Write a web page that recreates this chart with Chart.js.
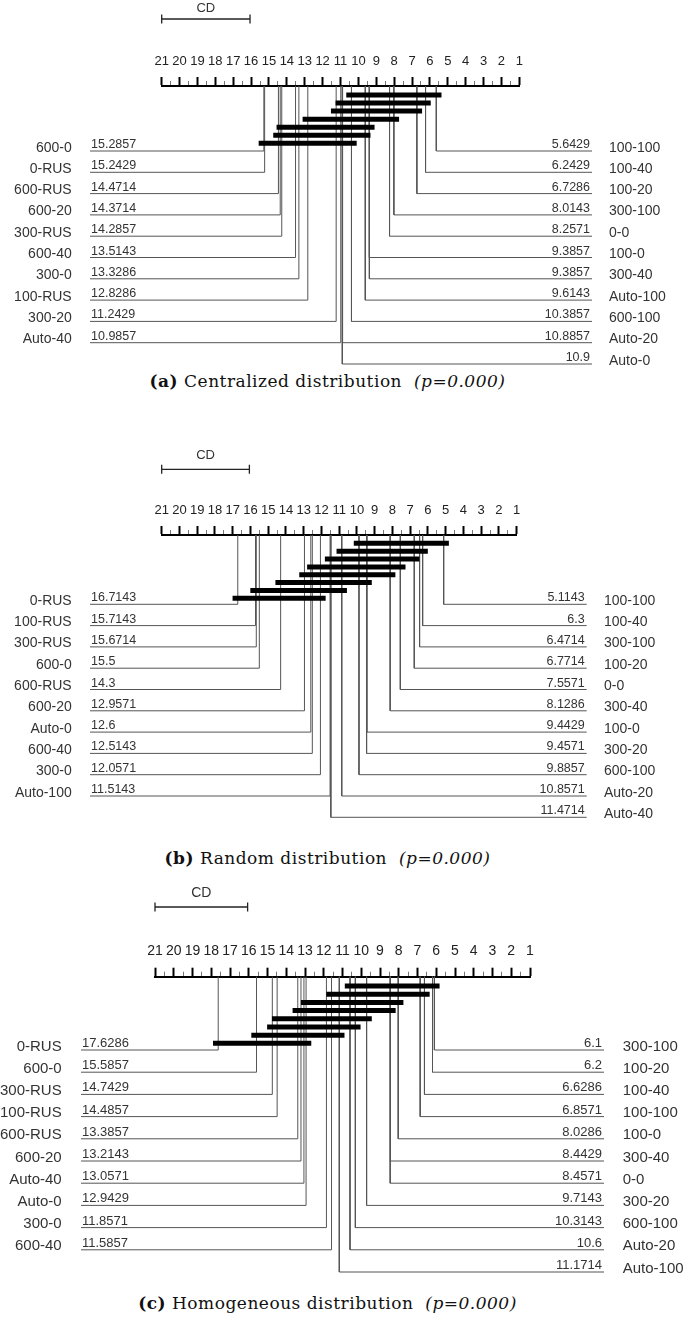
<!DOCTYPE html>
<html>
<head>
<meta charset="utf-8">
<script src="https://cdn.jsdelivr.net/npm/chart.js@4.4.1/dist/chart.umd.min.js"></script>
<style>
    body{margin:0;background:#fff;width:685px;height:1320px;position:relative;overflow:hidden}
    canvas{position:absolute;left:0}
    .cap{position:absolute;left:0;width:655px;text-align:center;font-family:"DejaVu Serif","Liberation Serif",serif;font-size:17px;letter-spacing:0.5px;line-height:22px;color:#111;white-space:nowrap}
</style>
</head>
<body>
<canvas id="chartA" width="685" height="370" style="top:0px"></canvas>
<div class="cap" style="top:370px"><b>(a)</b> Centralized distribution&nbsp; <i>(p=0.000)</i></div>
<canvas id="chartB" width="685" height="375" style="top:449px"></canvas>
<div class="cap" style="top:847px"><b>(b)</b> Random distribution&nbsp; <i>(p=0.000)</i></div>
<canvas id="chartC" width="685" height="402" style="top:880px"></canvas>
<div class="cap" style="top:1292px"><b>(c)</b> Homogeneous distribution&nbsp; <i>(p=0.000)</i></div>

<script>
// critical difference (same for all three panels)
const CD = 4.94

// (a) Centralized distribution
const A_LEFT_NAMES = ['600-0', '0-RUS', '600-RUS', '600-20', '300-RUS', '600-40', '300-0', '100-RUS', '300-20', 'Auto-40']
const A_LEFT_RANKS = [15.2857, 15.2429, 14.4714, 14.3714, 14.2857, 13.5143, 13.3286, 12.8286, 11.2429, 10.9857]
const A_RIGHT_NAMES = ['100-100', '100-40', '100-20', '300-100', '0-0', '100-0', '300-40', 'Auto-100', '600-100', 'Auto-20', 'Auto-0']
const A_RIGHT_RANKS = [5.6429, 6.2429, 6.7286, 8.0143, 8.2571, 9.3857, 9.3857, 9.6143, 10.3857, 10.8857, 10.9]
const A_CLIQUE_LOW = [5.6429, 6.2429, 6.7286, 8.0143, 9.3857, 9.6143, 10.3857]
const A_CLIQUE_HIGH = [10.3857, 10.9857, 11.2429, 12.8286, 14.2857, 14.4714, 15.2857]

// (b) Random distribution
const B_LEFT_NAMES = ['0-RUS', '100-RUS', '300-RUS', '600-0', '600-RUS', '600-20', 'Auto-0', '600-40', '300-0', 'Auto-100']
const B_LEFT_RANKS = [16.7143, 15.7143, 15.6714, 15.5, 14.3, 12.9571, 12.6, 12.5143, 12.0571, 11.5143]
const B_RIGHT_NAMES = ['100-100', '100-40', '300-100', '100-20', '0-0', '300-40', '100-0', '300-20', '600-100', 'Auto-20', 'Auto-40']
const B_RIGHT_RANKS = [5.1143, 6.3, 6.4714, 6.7714, 7.5571, 8.1286, 9.4429, 9.4571, 9.8857, 10.8571, 11.4714]
const B_CLIQUE_LOW = [5.1143, 6.3, 6.7714, 7.5571, 8.1286, 9.4571, 10.8571, 12.0571]
const B_CLIQUE_HIGH = [9.8857, 10.8571, 11.5143, 12.5143, 12.9571, 14.3, 15.7143, 16.7143]

// (c) Homogeneous distribution
const C_LEFT_NAMES = ['0-RUS', '600-0', '300-RUS', '100-RUS', '600-RUS', '600-20', 'Auto-40', 'Auto-0', '300-0', '600-40']
const C_LEFT_RANKS = [17.6286, 15.5857, 14.7429, 14.4857, 13.3857, 13.2143, 13.0571, 12.9429, 11.8571, 11.5857]
const C_RIGHT_NAMES = ['300-100', '100-20', '100-40', '100-100', '100-0', '300-40', '0-0', '300-20', '600-100', 'Auto-20', 'Auto-100']
const C_RIGHT_RANKS = [6.1, 6.2, 6.6286, 6.8571, 8.0286, 8.4429, 8.4571, 9.7143, 10.3143, 10.6, 11.1714]
const C_CLIQUE_LOW = [6.1, 6.6286, 8.0286, 8.4429, 9.7143, 10.3143, 11.1714, 12.9429]
const C_CLIQUE_HIGH = [10.6, 11.5857, 12.9429, 13.3857, 14.4857, 14.7429, 15.5857, 17.6286]

const RANK_MIN = 1
const RANK_MAX = 21

const panels = [
    {id: 'chartA', leftNames: A_LEFT_NAMES, leftRanks: A_LEFT_RANKS, rightNames: A_RIGHT_NAMES, rightRanks: A_RIGHT_RANKS,
     cliqueLow: A_CLIQUE_LOW, cliqueHigh: A_CLIQUE_HIGH,
     axisLeft: 161.7, axisRight: 519.3, axisTop: 86, firstRow: 65, rowGap: 21.3, firstBar: 9, barGap: 8.05,
     leftEnd: 90, rightEnd: 592, nameLeft: 71.7, nameRight: 609, cdY: -67, cdText: -78,
     nameSize: 14, valueSize: 12.5, tickSize: 13},
    {id: 'chartB', leftNames: B_LEFT_NAMES, leftRanks: B_LEFT_RANKS, rightNames: B_RIGHT_NAMES, rightRanks: B_RIGHT_RANKS,
     cliqueLow: B_CLIQUE_LOW, cliqueHigh: B_CLIQUE_HIGH,
     axisLeft: 161.7, axisRight: 516.7, axisTop: 86, firstRow: 69.3, rowGap: 21.3, firstBar: 8.3, barGap: 7.86,
     leftEnd: 90, rightEnd: 586.7, nameLeft: 71.7, nameRight: 604, cdY: -65.7, cdText: -80,
     nameSize: 14, valueSize: 12.5, tickSize: 13},
    {id: 'chartC', leftNames: C_LEFT_NAMES, leftRanks: C_LEFT_RANKS, rightNames: C_RIGHT_NAMES, rightRanks: C_RIGHT_RANKS,
     cliqueLow: C_CLIQUE_LOW, cliqueHigh: C_CLIQUE_HIGH,
     axisLeft: 155, axisRight: 530, axisTop: 96.7, firstRow: 73.3, rowGap: 22.2, firstBar: 9.3, barGap: 8.19,
     leftEnd: 81, rightEnd: 604, nameLeft: 61.7, nameRight: 622.7, cdY: -69.7, cdText: -83.7,
     nameSize: 15, valueSize: 13, tickSize: 14}
]

const SANS = '"Liberation Sans", Arial, sans-serif'
const isMajor = c => c.tick && Number.isInteger(c.tick.value)

function lineSet(points, color, width, order){
    return {type: 'line', data: points, borderColor: color, borderWidth: width, pointRadius: 0,
            fill: false, tension: 0, clip: false, order: order, borderCapStyle: 'butt', borderJoinStyle: 'miter'}
}

// names and average ranks next to the connector lines
const labelsPlugin = {
    id: 'cdLabels',
    afterDatasetsDraw(chart){
        const p = chart.options.plugins.cdLabels.panel
        const {ctx} = chart
        const y = chart.scales.y
        ctx.save()
        ctx.fillStyle = '#333'
        ctx.textBaseline = 'alphabetic'
        p.leftNames.forEach((name, i) => {
            const py = y.getPixelForValue(p.firstRow + i * p.rowGap)
            ctx.font = `${p.nameSize}px ${SANS}`
            ctx.textAlign = 'right'
            ctx.fillText(name, p.nameLeft, py + 0.5)
            ctx.font = `${p.valueSize}px ${SANS}`
            ctx.textAlign = 'left'
            ctx.fillText(String(p.leftRanks[i]), p.leftEnd + 1, py - 3)
        })
        p.rightNames.forEach((name, i) => {
            const py = y.getPixelForValue(p.firstRow + i * p.rowGap)
            ctx.font = `${p.nameSize}px ${SANS}`
            ctx.textAlign = 'left'
            ctx.fillText(name, p.nameRight, py + 0.5)
            ctx.font = `${p.valueSize}px ${SANS}`
            ctx.textAlign = 'right'
            ctx.fillText(String(p.rightRanks[i]), p.rightEnd - 2, py - 3)
        })
        // CD label
        const x = chart.scales.x
        ctx.font = `${p.tickSize}px ${SANS}`
        ctx.textAlign = 'center'
        ctx.textBaseline = 'middle'
        ctx.fillText('CD', (x.getPixelForValue(RANK_MAX) + x.getPixelForValue(RANK_MAX - CD)) / 2, y.getPixelForValue(p.cdText))
        ctx.restore()
    }
}

function drawPanel(p){
    const canvas = document.getElementById(p.id)
    const unit = (p.axisRight - p.axisLeft) / (RANK_MAX - RANK_MIN)
    const rankAt = px => RANK_MAX - (px - p.axisLeft) / unit
    const leftEndRank = rankAt(p.leftEnd)
    const rightEndRank = rankAt(p.rightEnd)
    const pad = 5.2 / unit
    const tickHalf = 4.5

    const datasets = []
    p.leftRanks.forEach((r, i) => {
        const row = p.firstRow + i * p.rowGap
        datasets.push(lineSet([{x: leftEndRank, y: row}, {x: r, y: row}, {x: r, y: 0}], '#555', 1, 3))
    })
    p.rightRanks.forEach((r, i) => {
        const row = p.firstRow + i * p.rowGap
        datasets.push(lineSet([{x: r, y: 0}, {x: r, y: row}, {x: rightEndRank, y: row}], '#555', 1, 3))
    })
    p.cliqueLow.forEach((lo, i) => {
        const row = p.firstBar + i * p.barGap
        datasets.push(lineSet([{x: p.cliqueHigh[i] + pad, y: row}, {x: lo - pad, y: row}], '#000', 5, 1))
    })
    // CD scale bar
    datasets.push(lineSet([{x: RANK_MAX, y: p.cdY}, {x: RANK_MAX - CD, y: p.cdY}], '#222', 1.3, 1))
    datasets.push(lineSet([{x: RANK_MAX, y: p.cdY - tickHalf}, {x: RANK_MAX, y: p.cdY + tickHalf}], '#222', 1.3, 1))
    datasets.push(lineSet([{x: RANK_MAX - CD, y: p.cdY - tickHalf}, {x: RANK_MAX - CD, y: p.cdY + tickHalf}], '#222', 1.3, 1))

    new Chart(canvas, {
        type: 'line',
        data: {datasets},
        options: {
            responsive: false,
            animation: false,
            events: [],
            layout: {padding: {left: p.axisLeft, right: canvas.width - p.axisRight, top: 0, bottom: 0}},
            plugins: {legend: {display: false}, tooltip: {enabled: false}, cdLabels: {panel: p}},
            scales: {
                x: {
                    type: 'linear', position: 'top', min: RANK_MIN, max: RANK_MAX, reverse: true,
                    afterFit: s => { s.height = p.axisTop },
                    border: {display: true, color: '#000', width: 2},
                    grid: {
                        drawOnChartArea: false, drawTicks: true, tickLength: 9,
                        tickColor: c => isMajor(c) ? '#000' : '#777',
                        tickWidth: c => isMajor(c) ? 2 : 1,
                        tickBorderDash: c => isMajor(c) ? [] : [0, 4, 6, 0]
                    },
                    ticks: {
                        stepSize: 0.5, autoSkip: false, maxRotation: 0, minRotation: 0, padding: 8,
                        color: '#222', font: {family: SANS, size: p.tickSize},
                        callback: v => Number.isInteger(v) ? String(v) : ''
                    }
                },
                y: {type: 'linear', display: false, min: 0, max: canvas.height - p.axisTop, reverse: true}
            }
        },
        plugins: [labelsPlugin]
    })
}

panels.forEach(drawPanel)
</script>
</body>
</html>
